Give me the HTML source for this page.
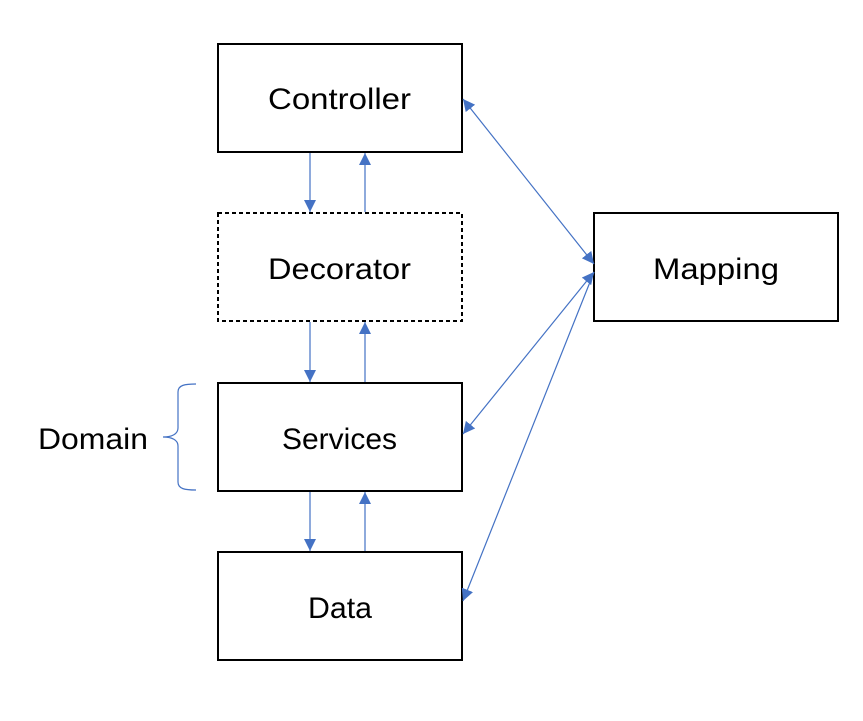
<!DOCTYPE html>
<html><head><meta charset="utf-8"><style>
html,body{margin:0;padding:0;background:#fff;}
svg{display:block;}
text{font-family:"Liberation Sans",sans-serif;font-size:30px;fill:#000;}
</style></head><body>
<svg width="863" height="721" viewBox="0 0 863 721" xmlns="http://www.w3.org/2000/svg">
<defs>
<marker id="b" viewBox="0 0 10 10" refX="10" refY="5" markerWidth="12" markerHeight="12" markerUnits="userSpaceOnUse" orient="auto-start-reverse">
<path d="M0,0 L10,5 L0,10 z" fill="#4472C4"/></marker>
</defs>
<g fill="none" stroke="#000" stroke-width="2">
<rect x="218" y="44" width="244" height="108"/>
<rect x="218" y="213" width="244" height="108" stroke-dasharray="4,3"/>
<rect x="218" y="383" width="244" height="108"/>
<rect x="218" y="552" width="244" height="108"/>
<rect x="594" y="213" width="244" height="108"/>
</g>
<text x="268" y="109" textLength="143" lengthAdjust="spacingAndGlyphs">Controller</text>
<text x="268" y="279" textLength="143" lengthAdjust="spacingAndGlyphs">Decorator</text>
<text x="282" y="449" textLength="115" lengthAdjust="spacingAndGlyphs">Services</text>
<text x="308" y="618" textLength="64" lengthAdjust="spacingAndGlyphs">Data</text>
<text x="653" y="279" textLength="126" lengthAdjust="spacingAndGlyphs">Mapping</text>
<text x="38" y="449" textLength="110" lengthAdjust="spacingAndGlyphs">Domain</text>
<g stroke="#4472C4" stroke-width="1.2" fill="none">
<line x1="310" y1="153" x2="310" y2="212" marker-end="url(#b)"/>
<line x1="365" y1="212" x2="365" y2="153" marker-end="url(#b)"/>
<line x1="310" y1="322" x2="310" y2="382" marker-end="url(#b)"/>
<line x1="365" y1="382" x2="365" y2="322" marker-end="url(#b)"/>
<line x1="310" y1="492" x2="310" y2="551" marker-end="url(#b)"/>
<line x1="365" y1="551" x2="365" y2="492" marker-end="url(#b)"/>
<line x1="463" y1="99" x2="594" y2="264" marker-start="url(#b)" marker-end="url(#b)"/>
<line x1="594" y1="272" x2="463" y2="434" marker-start="url(#b)" marker-end="url(#b)"/>
<line x1="594" y1="272" x2="463" y2="601" marker-end="url(#b)"/>
<path d="M196,384 C185,384 178,385 178,392 L178,428 C178,434 172,437 163,437 C172,437 178,440 178,446 L178,482 C178,489 185,490 196,490"/>
</g>
</svg>
</body></html>
